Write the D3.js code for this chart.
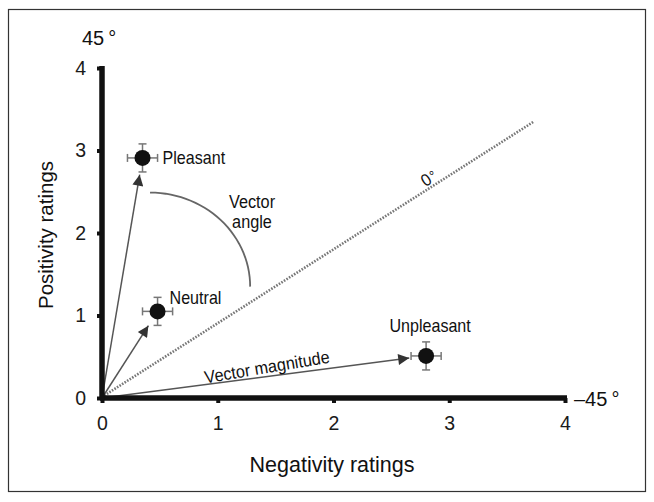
<!DOCTYPE html>
<html><head><meta charset="utf-8">
<script src="https://cdn.jsdelivr.net/npm/d3@7"></script>
<style>body{margin:0;background:#fff}svg{display:block;font-family:"Liberation Sans",Arial,sans-serif}</style>
</head><body><svg width="654" height="502"></svg>
<script>
const categories = ["Pleasant", "Neutral", "Unpleasant"];
const negativity = [0.35, 0.48, 2.80];
const positivity = [2.91, 1.05, 0.51];
const negErr = [0.13, 0.13, 0.13];
const posErr = [0.17, 0.17, 0.17];
const xTicks = [0, 1, 2, 3, 4];
const yTicks = [0, 1, 2, 3, 4];
const zeroLineEnd = [3.73, 3.35];

const svg = d3.select("svg");
svg.append("rect").attr("x", 8.5).attr("y", 9.5).attr("width", 637).attr("height", 482)
  .attr("fill", "none").attr("stroke", "#333").attr("stroke-width", 1.2);

const x = d3.scaleLinear().domain([0, 4]).range([102, 565]);
const y = d3.scaleLinear().domain([0, 4]).range([398, 68]);

const defs = svg.append("defs");
defs.append("marker").attr("id", "ah").attr("viewBox", "0 0 10 10").attr("refX", 10).attr("refY", 5)
  .attr("markerWidth", 13).attr("markerHeight", 11).attr("markerUnits", "userSpaceOnUse").attr("orient", "auto")
  .append("path").attr("d", "M0,0 L10,5 L0,10 Z").attr("fill", "#333");

// dotted 0° line
svg.append("line").attr("x1", x(0.02)).attr("y1", y(0.03)).attr("x2", x(zeroLineEnd[0])).attr("y2", y(zeroLineEnd[1]))
  .attr("stroke", "#777").attr("stroke-width", 2.6).attr("stroke-dasharray", "1.6,1.4");

// angle arc (quarter ellipse)
const cx = 0.415, cy = 1.35, rx = 0.865, ry = 1.14;
const arcPts = d3.range(0, 91, 3).map(a => [x(cx + rx * Math.sin(a * Math.PI / 180)), y(cy + ry * Math.cos(a * Math.PI / 180))]);
svg.append("path").attr("d", d3.line()(arcPts)).attr("fill", "none").attr("stroke", "#666").attr("stroke-width", 1.8);

// vectors
categories.forEach((c, i) => {
  const x1 = x(0), y1 = y(0), x2 = x(negativity[i]), y2 = y(positivity[i]);
  const L = Math.hypot(x2 - x1, y2 - y1), sh = 17;
  svg.append("line").attr("x1", x1).attr("y1", y1)
    .attr("x2", x2 - (x2 - x1) / L * sh).attr("y2", y2 - (y2 - y1) / L * sh)
    .attr("stroke", "#555").attr("stroke-width", 1.5).attr("marker-end", "url(#ah)");
});

// axes
const gx = svg.append("g").attr("transform", "translate(0,398)")
  .call(d3.axisBottom(x).tickValues(xTicks).tickSize(6).tickPadding(12).tickFormat(d3.format("d")));
const gy = svg.append("g").attr("transform", "translate(102,0)")
  .call(d3.axisLeft(y).tickValues(yTicks).tickSize(6).tickPadding(10).tickFormat(d3.format("d")));
[gx, gy].forEach(g => {
  g.select(".domain").remove();
  g.selectAll(".tick line").attr("stroke", "#111").attr("stroke-width", 4);
  g.selectAll(".tick text").attr("font-size", 19.5).attr("fill", "#1a1a1a").attr("font-family", "Liberation Sans, Arial, sans-serif");
});
gx.selectAll(".tick line").attr("y2", 5);
gy.selectAll(".tick line").attr("x2", -5);
svg.append("line").attr("x1", x(0) - 2).attr("x2", x(4) + 2).attr("y1", y(0)).attr("y2", y(0)).attr("stroke", "#111").attr("stroke-width", 5.5);
svg.append("line").attr("x1", x(0)).attr("x2", x(0)).attr("y1", y(4) - 2).attr("y2", y(0) + 2).attr("stroke", "#111").attr("stroke-width", 5.5);

// error bars and dots
categories.forEach((c, i) => {
  const px = x(negativity[i]), py = y(positivity[i]);
  const g = svg.append("g").attr("stroke", "#777").attr("stroke-width", 1.5);
  const xl = x(negativity[i] - negErr[i]), xr = x(negativity[i] + negErr[i]);
  const yt = y(positivity[i] + posErr[i]), yb = y(positivity[i] - posErr[i]);
  g.append("line").attr("x1", xl).attr("x2", xr).attr("y1", py).attr("y2", py);
  g.append("line").attr("x1", px).attr("x2", px).attr("y1", yt).attr("y2", yb);
  g.append("line").attr("x1", xl).attr("x2", xl).attr("y1", py - 4).attr("y2", py + 4);
  g.append("line").attr("x1", xr).attr("x2", xr).attr("y1", py - 4).attr("y2", py + 4);
  g.append("line").attr("x1", px - 4).attr("x2", px + 4).attr("y1", yt).attr("y2", yt);
  g.append("line").attr("x1", px - 4).attr("x2", px + 4).attr("y1", yb).attr("y2", yb);
  svg.append("circle").attr("cx", px).attr("cy", py).attr("r", 8).attr("fill", "#111");
});

const T = (tx, ty, s, size, anchor, rot, sx) => {
  const t = svg.append("text").attr("x", 0).attr("y", 0).text(s).attr("font-size", size)
    .attr("text-anchor", anchor || "start").attr("fill", "#111")
    .attr("transform", `translate(${tx},${ty}) rotate(${rot || 0}) scale(${sx || 1},1)`);
  return t;
};
// point labels
T(x(negativity[0]) + 20, y(positivity[0]) + 6, categories[0], 17.5, "start", 0, 0.92);
T(x(negativity[1]) + 12, y(positivity[1]) - 7, categories[1], 17.5, "start", 0, 0.92);
T(x(negativity[2]) + 4, y(positivity[2]) - 24, categories[2], 17.5, "middle", 0, 0.92);

T(252, 208, "Vector", 18.5, "middle", 0, 0.88);
T(252, 228, "angle", 18.5, "middle", 0, 0.88);
T(268, 373, "Vector magnitude", 17.5, "middle", -9.5, 0.93);
const z = T(432, 183, "0", 17, "middle", -33, 0.95);
z.append("tspan").attr("dx", 1).attr("font-size", 14).attr("dy", -1).text("°");

const a = svg.append("text").attr("x", 82).attr("y", 45).attr("font-size", 20).attr("fill", "#111").text("45");
a.append("tspan").attr("dx", 4).attr("font-size", 20).text("°");
const b = svg.append("text").attr("x", 574).attr("y", 406).attr("font-size", 20).attr("fill", "#111").text("\u201345");
b.append("tspan").attr("dx", 4).attr("font-size", 20).text("°");

T(332, 472, "Negativity ratings", 21.5, "middle");
T(53, 235, "Positivity ratings", 20.5, "middle", -90);
</script></body></html>
